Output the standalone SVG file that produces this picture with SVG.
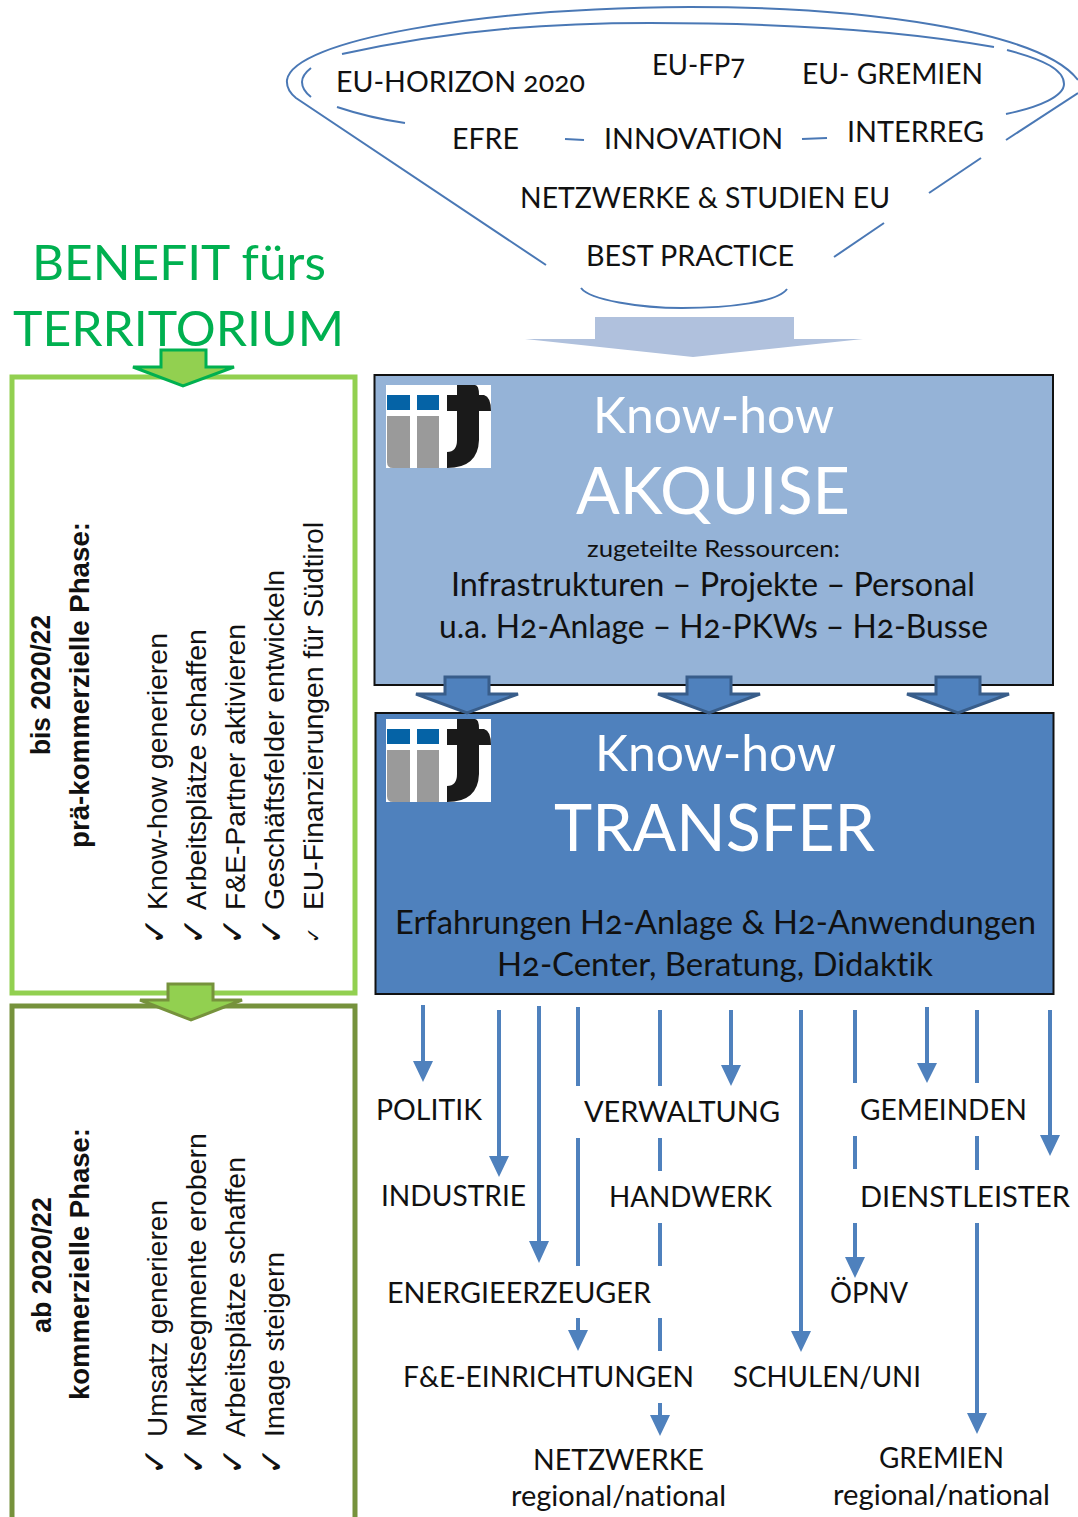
<svg xmlns="http://www.w3.org/2000/svg" width="1078" height="1517" viewBox="0 0 1078 1517">
<style>
text{font-family:"Lato","Open Sans","Liberation Sans",sans-serif;fill:#111;font-variant-ligatures:none;font-feature-settings:"onum","liga" 0,"dlig" 0;font-variant-numeric:oldstyle-nums}
.l{font-size:29px}
.w{fill:#fff}
.g{fill:#00b050;font-size:49px}
.r{font-family:"Liberation Sans",Arial,sans-serif;font-size:27px}
.b{font-family:"Liberation Sans",Arial,sans-serif;font-size:27px;font-weight:bold}
.c{font-family:"DejaVu Sans",sans-serif;font-size:33px}
.f{fill:none;stroke:#4a78b5;stroke-width:2}
.s{stroke:#4f81bd;stroke-width:4;fill:none}
.h{fill:#4f81bd}
.big{fill:#4f81bd;stroke:#385d8a;stroke-width:3}
</style>
<defs>
<g id="logo">
<rect x="386" y="385" width="105" height="83" fill="#fff"/>
<rect x="387" y="395" width="23" height="15" fill="#0563a6"/>
<rect x="417" y="395" width="22" height="15" fill="#0563a6"/>
<path d="M387 416H410V468H393Q387 468 387 462Z" fill="#9a9a9a"/>
<rect x="417" y="416" width="22" height="52" fill="#9a9a9a"/>
<path d="M447 395H457V385H475Q479 385 479 395H484Q491 397 491 411H479V440Q478 468 447 468V452Q457 452 457 440V411H447Z" fill="#1a1a1a"/>
</g>
</defs>

<g id="funnel">
<path class="f" d="M546 265L296 98Q286 90 287 80C293 40 480 8 690 7C860 7 1040 30 1078 80"/>
<path class="f" d="M1078 93L1006 140"/>
<path class="f" d="M981 158L929 193"/>
<path class="f" d="M884 223L834 257"/>
<path class="f" d="M342 54C460 28 560 23 650 23C780 23 900 30 994 47"/>
<path class="f" d="M1007 50C1045 60 1064 70 1064 84C1064 96 1040 107 1006 114"/>
<path class="f" d="M311 68Q302 75 302 82Q302 90 311 97"/>
<path class="f" d="M337 107Q370 118 405 123"/>
<path class="f" d="M565 139L584 140"/>
<path class="f" d="M802 139L827 138"/>
<path class="f" d="M581 288C590 300 640 308 682 308C730 308 778 302 787 289"/>
<text class="l" x="336" y="92" textLength="249" lengthAdjust="spacingAndGlyphs">EU-HORIZON 2020</text>
<text class="l" x="652" y="75" textLength="93" lengthAdjust="spacingAndGlyphs">EU-FP7</text>
<text class="l" x="802" y="84" textLength="181" lengthAdjust="spacingAndGlyphs">EU- GREMIEN</text>
<text class="l" x="452" y="149" textLength="67" lengthAdjust="spacingAndGlyphs">EFRE</text>
<text class="l" x="604" y="149" textLength="179" lengthAdjust="spacingAndGlyphs">INNOVATION</text>
<text class="l" x="847" y="142" textLength="137" lengthAdjust="spacingAndGlyphs">INTERREG</text>
<text class="l" x="520" y="208" textLength="370" lengthAdjust="spacingAndGlyphs">NETZWERKE &amp; STUDIEN EU</text>
<text class="l" x="586" y="266" textLength="208" lengthAdjust="spacingAndGlyphs">BEST PRACTICE</text>
<path d="M595 317H794V339H863L693 357L525 339H595Z" fill="#b0c1dd"/>
</g>

<g id="benefit">
<text class="g" x="32" y="280" textLength="294" lengthAdjust="spacingAndGlyphs">BENEFIT fürs</text>
<text class="g" x="13" y="346" textLength="331" lengthAdjust="spacingAndGlyphs">TERRITORIUM</text>
</g>

<g id="phase1">
<rect x="12" y="377" width="343" height="616" fill="#fff" stroke="#92d050" stroke-width="5"/>
<text class="b" transform="translate(50 755) rotate(-90)" textLength="140" lengthAdjust="spacingAndGlyphs">bis 2020/22</text>
<text class="b" transform="translate(89 848) rotate(-90)" textLength="326" lengthAdjust="spacingAndGlyphs">prä-kommerzielle Phase:</text>
<text class="r" transform="translate(167 910) rotate(-90)" textLength="277" lengthAdjust="spacingAndGlyphs">Know-how generieren</text>
<text class="r" transform="translate(206 910) rotate(-90)" textLength="281" lengthAdjust="spacingAndGlyphs">Arbeitsplätze schaffen</text>
<text class="r" transform="translate(245 910) rotate(-90)" textLength="286" lengthAdjust="spacingAndGlyphs">F&amp;E-Partner aktivieren</text>
<text class="r" transform="translate(284 910) rotate(-90)" textLength="340" lengthAdjust="spacingAndGlyphs">Geschäftsfelder entwickeln</text>
<text class="r" transform="translate(323 910) rotate(-90)" textLength="388" lengthAdjust="spacingAndGlyphs">EU-Finanzierungen für Südtirol</text>
<text class="c" transform="translate(166 945) rotate(-90)">✓</text>
<text class="c" transform="translate(205 945) rotate(-90)">✓</text>
<text class="c" transform="translate(244 945) rotate(-90)">✓</text>
<text class="c" transform="translate(283 945) rotate(-90)">✓</text>
<text class="c" style="font-size:19px" transform="translate(320 943) rotate(-90)">✓</text>
<path d="M161 350H206V367H234L183 386L133 367H161Z" fill="#92d050" stroke="#00b050" stroke-width="3"/>
</g>

<g id="phase2">
<path d="M12 1517V1006H355V1517" fill="#fff" stroke="#76923c" stroke-width="5"/>
<text class="b" transform="translate(51 1333) rotate(-90)" textLength="136" lengthAdjust="spacingAndGlyphs">ab 2020/22</text>
<text class="b" transform="translate(89 1400) rotate(-90)" textLength="272" lengthAdjust="spacingAndGlyphs">kommerzielle Phase:</text>
<text class="r" transform="translate(167 1437) rotate(-90)" textLength="237" lengthAdjust="spacingAndGlyphs">Umsatz generieren</text>
<text class="r" transform="translate(206 1437) rotate(-90)" textLength="304" lengthAdjust="spacingAndGlyphs">Marktsegmente erobern</text>
<text class="r" transform="translate(245 1437) rotate(-90)" textLength="280" lengthAdjust="spacingAndGlyphs">Arbeitsplätze schaffen</text>
<text class="r" transform="translate(284 1437) rotate(-90)" textLength="185" lengthAdjust="spacingAndGlyphs">Image steigern</text>
<text class="c" transform="translate(166 1475) rotate(-90)">✓</text>
<text class="c" transform="translate(205 1475) rotate(-90)">✓</text>
<text class="c" transform="translate(244 1475) rotate(-90)">✓</text>
<text class="c" transform="translate(283 1475) rotate(-90)">✓</text>
<path d="M168 984H213V1000H242L191 1020L140 1000H168Z" fill="#92d050" stroke="#76923c" stroke-width="3"/>
</g>

<g id="akquise">
<rect x="374.500" y="375" width="678.500" height="310" fill="#95b3d7" stroke="#111" stroke-width="2"/>
<use href="#logo"/>
<text class="w" x="593" y="433" font-size="50" textLength="241" lengthAdjust="spacingAndGlyphs">Know-how</text>
<text class="w" x="576" y="514" font-size="65" textLength="274" lengthAdjust="spacingAndGlyphs">AKQUISE</text>
<text x="587" y="557" font-size="24" textLength="253" lengthAdjust="spacingAndGlyphs">zugeteilte Ressourcen:</text>
<text x="451" y="596" font-size="32" textLength="524" lengthAdjust="spacingAndGlyphs">Infrastrukturen – Projekte – Personal</text>
<text x="439" y="638" font-size="32" textLength="549" lengthAdjust="spacingAndGlyphs">u.a. H2-Anlage – H2-PKWs – H2-Busse</text>
</g>

<g id="transfer">
<rect x="375.500" y="713" width="678" height="281" fill="#4f81bd" stroke="#111" stroke-width="2"/>
<use href="#logo" y="334"/>
<text class="w" x="595" y="771" font-size="50" textLength="241" lengthAdjust="spacingAndGlyphs">Know-how</text>
<text class="w" x="554" y="851" font-size="65" textLength="321" lengthAdjust="spacingAndGlyphs">TRANSFER</text>
<text x="395" y="934" font-size="32" textLength="641" lengthAdjust="spacingAndGlyphs">Erfahrungen H2-Anlage &amp; H2-Anwendungen</text>
<text x="497" y="976" font-size="32" textLength="436" lengthAdjust="spacingAndGlyphs">H2-Center, Beratung, Didaktik</text>
</g>

<g id="flow-arrows">
<path class="big" d="M445 677H489V694H518L467 713L416 694H445Z"/>
<path class="big" d="M687 677H731V694H760L709 713L658 694H687Z"/>
<path class="big" d="M936 677H980V694H1009L958 713L907 694H936Z"/>
</g>

<g id="connectors">
<path class="s" d="M423 1005V1062M499 1010V1158M539 1006V1243M578 1007V1086M578 1138V1266M578 1318V1332M660 1010V1086M660 1138V1171M660 1223V1266M660 1318V1351M660 1403V1417M731 1010V1067M801 1010V1333M855 1010V1083M855 1136V1169M855 1223V1259M927 1007V1065M977 1010V1083M977 1136V1170M977 1223V1415M1050 1010V1137"/>
<path class="h" d="M413 1061H433L423 1082ZM489 1156H509L499 1177ZM529 1241H549L539 1263ZM568 1330H588L578 1351ZM650 1415H670L660 1436ZM721 1065H741L731 1086ZM791 1331H811L801 1352ZM845 1257H865L855 1278ZM917 1063H937L927 1083ZM967 1413H987L977 1434ZM1040 1135H1060L1050 1156Z"/>
</g>

<g id="labels">
<text class="l" x="376" y="1120" textLength="106" lengthAdjust="spacingAndGlyphs">POLITIK</text>
<text class="l" x="584" y="1122" textLength="196" lengthAdjust="spacingAndGlyphs">VERWALTUNG</text>
<text class="l" x="860" y="1120" textLength="167" lengthAdjust="spacingAndGlyphs">GEMEINDEN</text>
<text class="l" x="381" y="1206" textLength="145" lengthAdjust="spacingAndGlyphs">INDUSTRIE</text>
<text class="l" x="609" y="1207" textLength="163" lengthAdjust="spacingAndGlyphs">HANDWERK</text>
<text class="l" x="860" y="1207" textLength="210" lengthAdjust="spacingAndGlyphs">DIENSTLEISTER</text>
<text class="l" x="387" y="1303" textLength="264" lengthAdjust="spacingAndGlyphs">ENERGIEERZEUGER</text>
<text class="l" x="830" y="1303" textLength="78" lengthAdjust="spacingAndGlyphs">ÖPNV</text>
<text class="l" x="403" y="1387" textLength="291" lengthAdjust="spacingAndGlyphs">F&amp;E-EINRICHTUNGEN</text>
<text class="l" x="733" y="1387" textLength="188" lengthAdjust="spacingAndGlyphs">SCHULEN/UNI</text>
<text class="l" x="533" y="1470" textLength="171" lengthAdjust="spacingAndGlyphs">NETZWERKE</text>
<text class="l" x="511" y="1506" textLength="215" lengthAdjust="spacingAndGlyphs">regional/national</text>
<text class="l" x="879" y="1468" textLength="125" lengthAdjust="spacingAndGlyphs">GREMIEN</text>
<text class="l" x="833" y="1505" textLength="217" lengthAdjust="spacingAndGlyphs">regional/national</text>
</g>
</svg>
